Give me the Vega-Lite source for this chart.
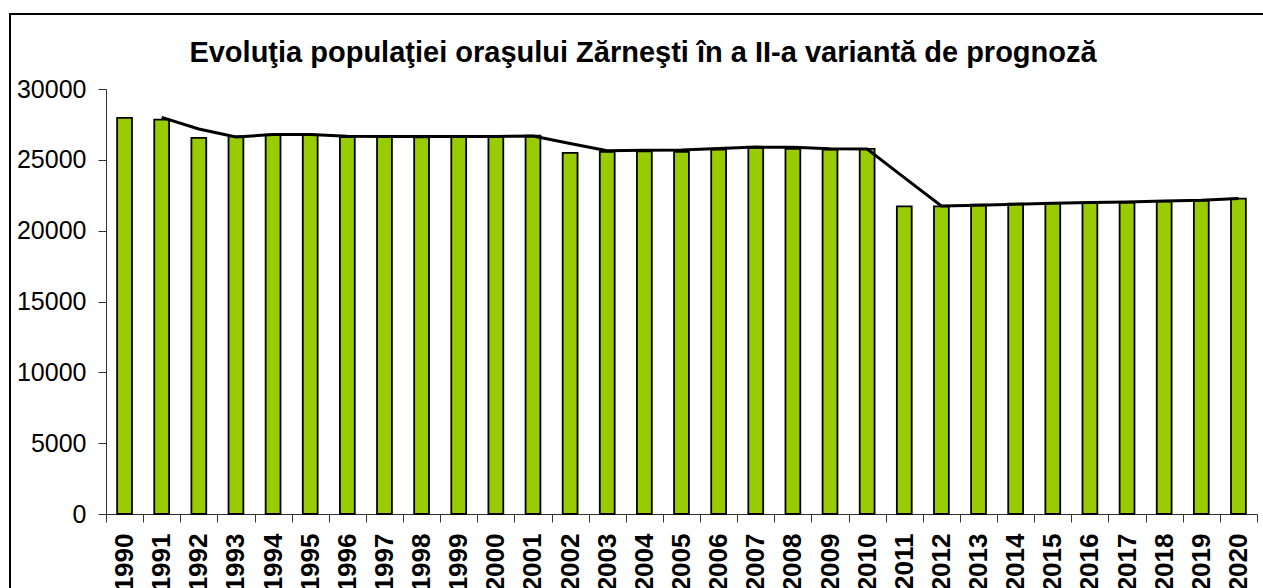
{
  "$schema": "https://vega.github.io/schema/vega-lite/v6.json",
  "width": 1258,
  "height": 579,
  "autosize": {"type": "none"},
  "padding": {"left": 10, "top": 14, "right": -5, "bottom": -5},
  "background": "white",
  "config": {
    "view": {"stroke": "black", "strokeWidth": 2},
    "font": "Liberation Sans"
  },
  "title": {
    "text": "Evoluţia populaţiei oraşului Zărneşti în a II-a variantă de prognoză",
    "font": "Liberation Sans",
    "fontSize": 29,
    "fontWeight": "bold",
    "color": "black",
    "anchor": "middle",
    "baseline": "alphabetic",
    "offset": -77,
    "dx": 4
  },
  "data": {
    "values": [
      {"year": 1990, "pop": 27960, "trend": null},
      {"year": 1991, "pop": 27840, "trend": 28000},
      {"year": 1992, "pop": 26550, "trend": 27180},
      {"year": 1993, "pop": 26660, "trend": 26620},
      {"year": 1994, "pop": 26780, "trend": 26780},
      {"year": 1995, "pop": 26770, "trend": 26780},
      {"year": 1996, "pop": 26600, "trend": 26660},
      {"year": 1997, "pop": 26600, "trend": 26650},
      {"year": 1998, "pop": 26580, "trend": 26650},
      {"year": 1999, "pop": 26600, "trend": 26650},
      {"year": 2000, "pop": 26600, "trend": 26650},
      {"year": 2001, "pop": 26700, "trend": 26680},
      {"year": 2002, "pop": 25490, "trend": 26150},
      {"year": 2003, "pop": 25560, "trend": 25640},
      {"year": 2004, "pop": 25600, "trend": 25670},
      {"year": 2005, "pop": 25570, "trend": 25700},
      {"year": 2006, "pop": 25720, "trend": 25800},
      {"year": 2007, "pop": 25840, "trend": 25900},
      {"year": 2008, "pop": 25770, "trend": 25880},
      {"year": 2009, "pop": 25720, "trend": 25790},
      {"year": 2010, "pop": 25770, "trend": 25760},
      {"year": 2011, "pop": 21720, "trend": 23740},
      {"year": 2012, "pop": 21720, "trend": 21740},
      {"year": 2013, "pop": 21840, "trend": 21790},
      {"year": 2014, "pop": 21910, "trend": 21870},
      {"year": 2015, "pop": 21960, "trend": 21940},
      {"year": 2016, "pop": 21970, "trend": 21980},
      {"year": 2017, "pop": 21990, "trend": 22030},
      {"year": 2018, "pop": 22070, "trend": 22100},
      {"year": 2019, "pop": 22120, "trend": 22150},
      {"year": 2020, "pop": 22260, "trend": 22270}
    ]
  },
  "layer": [
    {
      "mark": {"type": "bar", "width": {"band": 0.4}, "fill": "#99CC00", "stroke": "black", "strokeWidth": 1.8},
      "encoding": {
        "x": {
          "field": "year",
          "type": "ordinal",
          "scale": {"range": [96, 1247], "paddingInner": 0, "paddingOuter": 0},
          "axis": {
            "title": null,
            "offset": -79,
            "tickBand": "extent",
            "labelAngle": -90,
            "labelFont": "Liberation Sans",
            "labelFontSize": 26,
            "labelFontWeight": "bold",
            "labelColor": "black",
            "labelPadding": 11,
            "tickSize": 8,
            "tickColor": "#333333",
            "domainColor": "#333333",
            "grid": false
          }
        },
        "y": {
          "field": "pop",
          "type": "quantitative",
          "scale": {"domain": [0, 30000], "range": [500, 75], "nice": false},
          "axis": {
            "title": null,
            "offset": -96,
            "format": "d",
            "values": [0, 5000, 10000, 15000, 20000, 25000, 30000],
            "labelFont": "Liberation Sans",
            "labelFontSize": 25,
            "labelColor": "black",
            "labelPadding": 12,
            "tickSize": 8,
            "tickColor": "#333333",
            "domainColor": "#333333",
            "grid": false
          }
        }
      }
    },
    {
      "mark": {"type": "line", "color": "black", "strokeWidth": 3},
      "encoding": {
        "x": {"field": "year", "type": "ordinal"},
        "y": {"field": "trend", "type": "quantitative"}
      }
    }
  ]
}
